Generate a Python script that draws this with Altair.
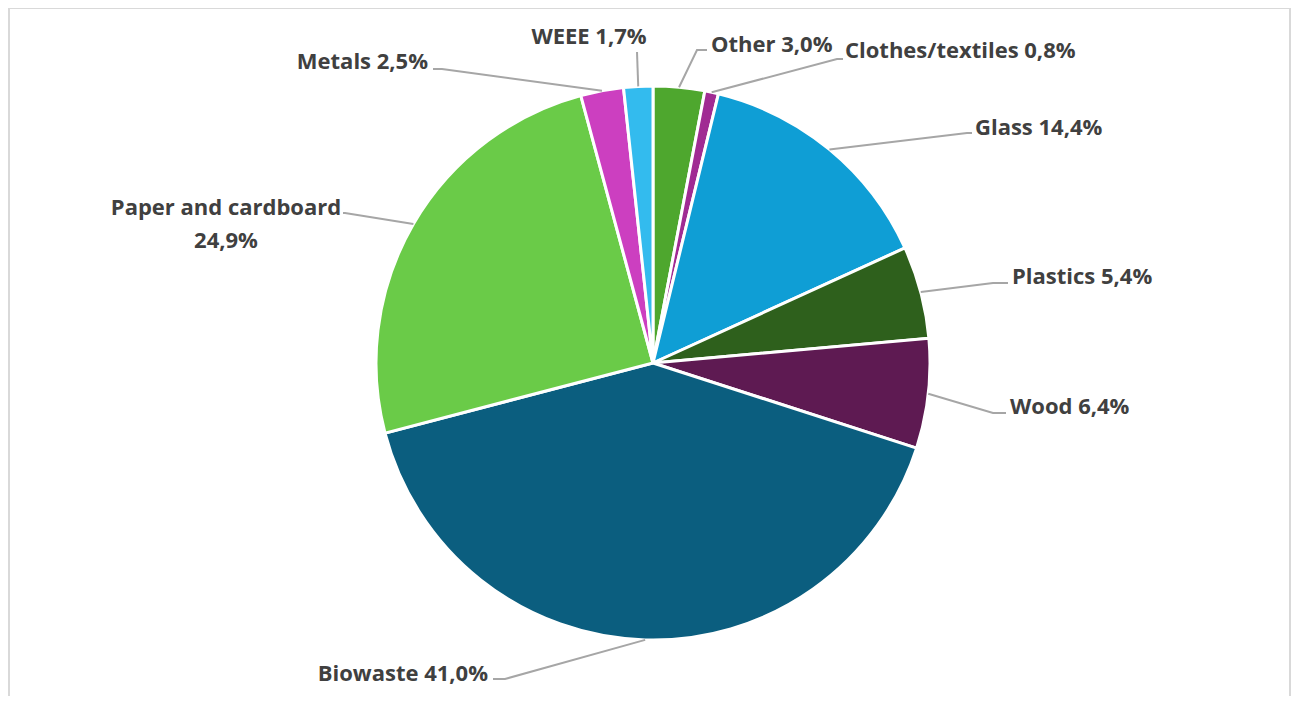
import altair as alt
import pandas as pd
import numpy as np

# ---- data ----
categories = ["Other", "Clothes/textiles", "Glass", "Plastics", "Wood",
              "Biowaste", "Paper and cardboard", "Metals", "WEEE"]
values = [3.0, 0.8, 14.4, 5.4, 6.4, 41.0, 24.9, 2.5, 1.7]
colors = ["#4ea72e", "#a02b93", "#0f9ed5", "#2e601c", "#5e1a52",
          "#0b5e7f", "#6acb48", "#cc3fc0", "#33bbee"]

# ---- layout (chart pixels) ----
W, H = 1283, 688
CX, CY, R = 645, 355, 277

# label placement: text anchor, alignment, leader elbow and end
label_layout = {
    "Other":               dict(tx=703, ty=44, align="left",   ex=689, ey=42, lx=699, ly=42),
    "Clothes/textiles":    dict(tx=837, ty=50, align="left",   ex=829, ey=51, lx=835, ly=51),
    "Glass":               dict(tx=967, ty=127, align="left",  ex=959, ey=125, lx=964, ly=125),
    "Plastics":            dict(tx=1004, ty=276, align="left", ex=985, ey=275, lx=1000, ly=275),
    "Wood":                dict(tx=1002, ty=406, align="left", ex=985, ey=405, lx=998, ly=405),
    "Biowaste":            dict(tx=480, ty=673, align="right", ex=497, ey=671, lx=485, ly=671),
    "Paper and cardboard": dict(tx=218, ty=207, align="center", ex=337, ey=205, lx=335, ly=205),
    "Metals":              dict(tx=420, ty=61, align="right",  ex=434, ey=61, lx=425, ly=61),
    "WEEE":                dict(tx=581, ty=36, align="center", ex=629, ey=44, lx=629, ly=44),
}

df = pd.DataFrame({"cat": categories, "value": values, "idx": range(len(categories))})
total = df["value"].sum()
cum = df["value"].cumsum()
mid = (cum - df["value"] / 2) / total * 2 * np.pi
df["mid"] = mid


def fmt(c, v):
    s = f"{v:.1f}".replace(".", ",") + "%"
    if c == "Paper and cardboard":
        return f"{c}\n{s}"
    return f"{c} {s}"


df["label"] = [fmt(c, v) for c, v in zip(df["cat"], df["value"])]
df["tx"] = [label_layout[c]["tx"] for c in df["cat"]]
df["ty"] = [label_layout[c]["ty"] for c in df["cat"]]
df["align"] = [label_layout[c]["align"] for c in df["cat"]]

rows = []
for c, m in zip(df["cat"], df["mid"]):
    L = label_layout[c]
    rows.append({"cat": c, "pt": 0, "x": CX + R * np.sin(m), "y": CY - R * np.cos(m)})
    rows.append({"cat": c, "pt": 1, "x": L["ex"], "y": L["ey"]})
    rows.append({"cat": c, "pt": 2, "x": L["lx"], "y": L["ly"]})
lines_df = pd.DataFrame(rows)

xs = alt.Scale(domain=[0, W], range=[0, W], nice=False, zero=False)
ys = alt.Scale(domain=[0, H], range=[0, H], nice=False, zero=False)

frame = alt.Chart(pd.DataFrame({"a": [0]})).mark_rect(
    fill=None, stroke="#d9d9d9", strokeWidth=2
).encode(x=alt.value(1), x2=alt.value(W - 1), y=alt.value(0), y2=alt.value(H + 10))

arcs = alt.Chart(df).mark_arc(
    outerRadius=R, stroke="white", strokeWidth=3
).encode(
    theta=alt.Theta("value:Q", stack=True),
    order=alt.Order("idx:Q"),
    color=alt.Color("cat:N", scale=alt.Scale(domain=categories, range=colors), legend=None),
    x=alt.value(CX),
    y=alt.value(CY),
)

leaders = alt.Chart(lines_df).mark_line(color="#a6a6a6", strokeWidth=2).encode(
    x=alt.X("x:Q", scale=xs, axis=None),
    y=alt.Y("y:Q", scale=ys, axis=None),
    detail="cat:N",
    order="pt:Q",
)


def text_layer(al):
    return alt.Chart(df).transform_filter(alt.datum.align == al).mark_text(
        font="Open Sans", fontWeight="bold", fontSize=22, color="#404040",
        align=al, baseline="alphabetic", lineBreak="\n", lineHeight=33
    ).encode(
        x=alt.X("tx:Q", scale=xs, axis=None),
        y=alt.Y("ty:Q", scale=ys, axis=None),
        text="label:N",
    )


chart = alt.layer(
    frame, arcs, leaders, text_layer("left"), text_layer("right"), text_layer("center")
).properties(
    width=W, height=H, padding=0, autosize=alt.AutoSizeParams(type="none")
).configure_view(stroke=None)

chart.save("out.html", embed_options={"renderer": "svg", "actions": False})
